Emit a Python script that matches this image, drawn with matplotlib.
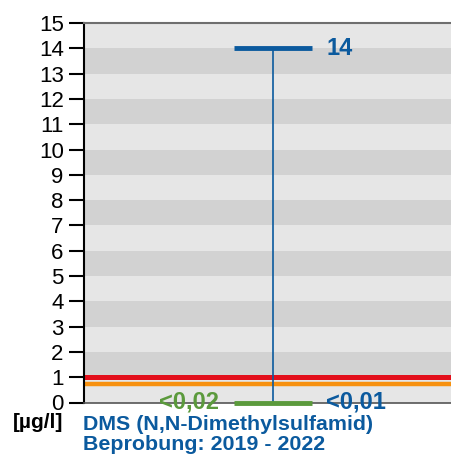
import numpy as np
import matplotlib.pyplot as plt

plt.rcParams['font.family'] = ['Liberation Sans', 'DejaVu Sans']

# data
y_ticks = list(range(0, 16))
max_value = 14
min_value = 0
max_label = '14'
min_label = '<0,01'
bg_label = '<0,02'
limit_red = 1.0
limit_orange = 0.75
unit_label = '[µg/l]'
title_lines = ['DMS (N,N-Dimethylsulfamid)', 'Beprobung: 2019 - 2022']

blue = '#0b5a9e'
green = '#5b9a3c'

W, H = 451, 457
fig = plt.figure(figsize=(W / 100, H / 100), dpi=100)
ax = fig.add_axes([84 / W, (H - 402.5) / H, 1 - 84 / W + 0.01, 379.5 / H])

x0, x1 = -0.515, 0.485
ax.set_xlim(x0, x1 + 0.01 * W / 367)
ax.set_ylim(0, 15)

# alternating bands
for k in range(15):
    ax.axhspan(k, k + 1, color='#d2d2d2' if k % 2 == 1 else '#e6e6e6', lw=0, zorder=0)

# limit lines
ax.axhline(limit_red, color='#e30f1b', lw=3.6, zorder=2)
ax.axhline(limit_orange, color='#f7910f', lw=3.2, zorder=2)

# range whisker
hw = 0.105
ax.plot([0, 0], [min_value, max_value], color=blue, lw=1.2, zorder=3)
ax.plot([-hw, hw], [max_value, max_value], color=blue, lw=3.5, solid_capstyle='butt', zorder=4)
ax.plot([-hw, hw], [min_value, min_value], color=green, lw=3.5, solid_capstyle='butt', zorder=4,
        clip_on=False)

ax.text(0.145, max_value, max_label, color=blue, fontsize=17, fontweight='bold', va='center', ha='left')
ax.text(0.145, min_value, min_label, color=blue, fontsize=17, fontweight='bold', va='center', ha='left')
ax.text(-0.147, min_value, bg_label, color=green, fontsize=17, fontweight='bold', va='center', ha='right')

ax.set_yticks(y_ticks)
ax.set_xticks([])
ax.tick_params(axis='y', length=11, width=1.5, labelsize=16, pad=3.6, colors='black')

ax.spines['right'].set_visible(False)
ax.spines['left'].set_linewidth(1.5)
ax.spines['top'].set_color('#6e6e6e')
ax.spines['top'].set_linewidth(1.5)
ax.spines['bottom'].set_color('#555555')
ax.spines['bottom'].set_linewidth(1.2)

fig.text(63 / W, 1 - 423 / H, unit_label, fontsize=15, fontweight='bold', ha='right', va='center')
fig.text(83 / W, 1 - 424 / H, title_lines[0], fontsize=15.4, fontweight='bold', color=blue, ha='left', va='center')
fig.text(83 / W, 1 - 445 / H, title_lines[1], fontsize=15.4, fontweight='bold', color=blue, ha='left', va='center')

fig.savefig('out.png', dpi=100)
